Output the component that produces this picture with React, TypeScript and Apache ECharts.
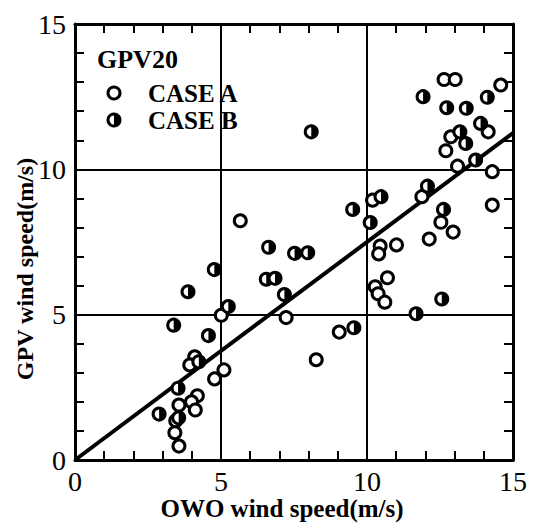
import React, { useEffect, useRef } from "react";
import * as echarts from "echarts";

// OWO wind speed (x) vs GPV wind speed (y), m/s
const caseA: [number, number][] = [
  [5.66, 8.23], [12.64, 13.09], [13.02, 13.09], [14.58, 12.9], [14.15, 11.29],
  [12.87, 11.12], [12.7, 10.64], [13.1, 10.11], [14.29, 9.92], [14.29, 8.77],
  [11.88, 9.06], [10.19, 8.94], [12.53, 8.18], [12.95, 7.84], [12.13, 7.6],
  [11.01, 7.4], [10.45, 7.36], [10.4, 7.09], [10.7, 6.27], [10.28, 5.96],
  [10.38, 5.72], [10.61, 5.43], [7.23, 4.9], [9.05, 4.4], [8.26, 3.45],
  [5.01, 4.98], [4.1, 3.55], [3.93, 3.27], [5.1, 3.1], [4.78, 2.79],
  [4.19, 2.21], [3.99, 2.0], [4.12, 1.72], [3.56, 1.89], [3.45, 1.35],
  [3.42, 0.94], [3.56, 0.48],
];

const caseB: [number, number][] = [
  [8.09, 11.29], [11.92, 12.5], [14.12, 12.48], [12.73, 12.12], [13.4, 12.1],
  [13.89, 11.58], [13.18, 11.29], [13.38, 10.89], [13.72, 10.32], [12.07, 9.42],
  [10.48, 9.06], [10.11, 8.17], [9.51, 8.62], [12.62, 8.62], [12.56, 5.54],
  [11.68, 5.03], [9.55, 4.55], [6.63, 7.32], [7.52, 7.11], [7.97, 7.13],
  [6.55, 6.22], [6.85, 6.25], [7.17, 5.69], [4.77, 6.55], [3.87, 5.79],
  [5.25, 5.28], [3.38, 4.64], [4.57, 4.28], [4.24, 3.38], [3.53, 2.47],
  [2.88, 1.58], [3.55, 1.45],
];

const fitLine: [number, number][] = [
  [0, 0],
  [15, 11.25],
];

const axisMin = 0;
const axisMax = 15;
const axisInterval = 5;

const title = "GPV20";
const labelA = "CASE A";
const labelB = "CASE B";
const xName = "OWO wind speed(m/s)";
const yName = "GPV wind speed(m/s)";

const SERIF = "'Liberation Serif', 'DejaVu Serif', serif";
const R = 6;
const LW = 3;

function openCircle(cx: number, cy: number) {
  return {
    type: "circle",
    shape: { cx, cy, r: R },
    style: { fill: "#fff", stroke: "#000", lineWidth: LW },
  };
}

function halfCircle(cx: number, cy: number) {
  return {
    type: "group",
    children: [
      {
        type: "circle",
        shape: { cx, cy, r: R },
        style: { fill: "#fff", stroke: "#000", lineWidth: LW },
      },
      {
        type: "sector",
        shape: { cx, cy, r0: 0, r: R, startAngle: -Math.PI / 2, endAngle: Math.PI / 2 },
        style: { fill: "#000" },
      },
    ],
  };
}

function makeAxis(kind: "x" | "y", position: string, main: boolean) {
  return {
    type: "value",
    min: axisMin,
    max: axisMax,
    interval: axisInterval,
    position,
    axisLine: { show: true, onZero: false, lineStyle: { color: "#000", width: 3 } },
    axisTick: { show: true, inside: true, length: 9, lineStyle: { color: "#000", width: 2 } },
    minorTick: { show: true, splitNumber: 5, length: 9, lineStyle: { color: "#000", width: 2 } },
    splitLine: { show: main, lineStyle: { color: "#000", width: 2 } },
    axisLabel: {
      show: main,
      showMinLabel: true,
      showMaxLabel: true,
      color: "#000",
      fontFamily: SERIF,
      fontSize: 28,
      margin: kind === "x" ? 7 : 9,
    },
  };
}

export default function App() {
  const ref = useRef<HTMLDivElement>(null);
  useEffect(() => {
    if (!ref.current) return;
    const chart = echarts.init(ref.current, null, { renderer: "svg" });
    chart.setOption({
      animation: false,
      backgroundColor: "#fff",
      grid: { left: 75, right: 21, top: 24, bottom: 67, containLabel: false },
      xAxis: [makeAxis("x", "bottom", true), makeAxis("x", "top", false)],
      yAxis: [makeAxis("y", "left", true), makeAxis("y", "right", false)],
      series: [
        {
          type: "line",
          name: "fit",
          data: fitLine,
          xAxisIndex: 0,
          yAxisIndex: 0,
          symbol: "none",
          lineStyle: { color: "#000", width: 4 },
          z: 2,
        },
        {
          type: "custom",
          name: labelA,
          data: caseA,
          xAxisIndex: 0,
          yAxisIndex: 0,
          z: 3,
          renderItem: (_p: any, api: any) => {
            const pt = api.coord([api.value(0), api.value(1)]);
            return openCircle(pt[0], pt[1]);
          },
        },
        {
          type: "custom",
          name: labelB,
          data: caseB,
          xAxisIndex: 0,
          yAxisIndex: 0,
          z: 3,
          renderItem: (_p: any, api: any) => {
            const pt = api.coord([api.value(0), api.value(1)]);
            return halfCircle(pt[0], pt[1]);
          },
        },
      ],
      graphic: [
        {
          type: "text",
          x: 97,
          y: 59,
          style: { text: title, fill: "#000", font: `bold 26px ${SERIF}`, textVerticalAlign: "middle" },
        },
        { ...openCircle(114, 93) },
        {
          type: "text",
          x: 148,
          y: 93,
          style: { text: labelA, fill: "#000", font: `bold 25px ${SERIF}`, textVerticalAlign: "middle" },
        },
        { ...halfCircle(114, 120) },
        {
          type: "text",
          x: 148,
          y: 120,
          style: { text: labelB, fill: "#000", font: `bold 25px ${SERIF}`, textVerticalAlign: "middle" },
        },
        {
          type: "text",
          x: 282,
          y: 508,
          style: {
            text: xName,
            fill: "#000",
            font: `bold 25px ${SERIF}`,
            textAlign: "center",
            textVerticalAlign: "middle",
          },
        },
        {
          type: "text",
          x: 25,
          y: 269,
          rotation: Math.PI / 2,
          style: {
            text: yName,
            fill: "#000",
            font: `bold 24px ${SERIF}`,
            textAlign: "center",
            textVerticalAlign: "middle",
          },
        },
      ],
    });
    return () => chart.dispose();
  }, []);
  return (
    <div
      ref={ref}
      style={{ position: "fixed", left: 0, top: 0, width: 534, height: 527, background: "#fff" }}
    />
  );
}
